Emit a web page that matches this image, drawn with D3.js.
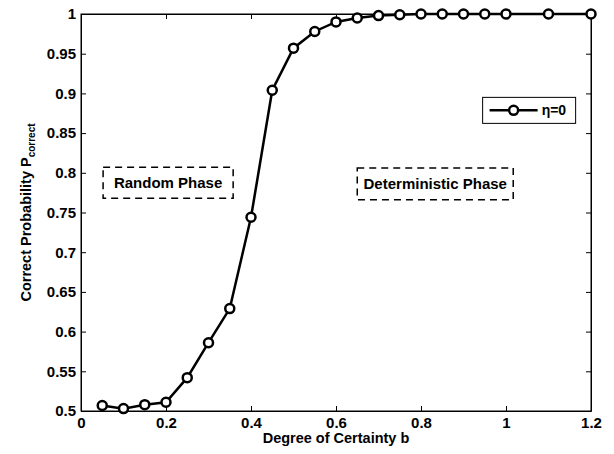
<html lang="en">
<head>
  <meta charset="UTF-8"/>
  <script src="https://d3js.org/d3.v7.min.js"></script>
  <style>
body {
  margin: 0;
  background: white;
  font-family: 'Liberation Sans', Arial, sans-serif;
}

svg {
  display: block;
}

text {
  fill: black;
  font-weight: bold;
}

.axis path,
.axis line {
  stroke: black;
}

.axis text {
  font-size: 15px;
}

.line {
  fill: none;
  stroke: black;
  stroke-width: 2.5;
}

.dot {
  fill: white;
  stroke: black;
  stroke-width: 2.5;
}

text.axis_title {
  font-size: 14.5px;
}

.note rect {
  fill: none;
  stroke: black;
  stroke-width: 1.5;
  stroke-dasharray: 7,5;
}

.note text {
  font-size: 15px;
}
</style>
</head>
<body>
  <svg width="614" height="454"></svg>

<script>

  // data
  const certainty = [0.05, 0.1, 0.15, 0.2, 0.25, 0.3, 0.35, 0.4, 0.45, 0.5, 0.55,
                     0.6, 0.65, 0.7, 0.75, 0.8, 0.85, 0.9, 0.95, 1.0, 1.1, 1.2];
  const pCorrect  = [0.507, 0.503, 0.508, 0.511, 0.542, 0.586, 0.629, 0.744, 0.904, 0.957, 0.978,
                     0.990, 0.995, 0.998, 0.999, 1.0, 1.0, 1.0, 1.0, 1.0, 1.0, 1.0];
  const xTicks = [0, 0.2, 0.4, 0.6, 0.8, 1, 1.2];
  const yTicks = [0.5, 0.55, 0.6, 0.65, 0.7, 0.75, 0.8, 0.85, 0.9, 0.95, 1];
  const seriesName = 'η=0';
  const phases = [
    {label: 'Random Phase', x0: 0.052, x1: 0.358, y0: 0.768, y1: 0.807},
    {label: 'Deterministic Phase', x0: 0.65, x1: 1.017, y0: 0.766, y1: 0.806}
  ];

  const svg = d3.select('svg');

  const margin = {left: 81, right: 23, top: 14, bottom: 43};
  const width = 614 - margin.left - margin.right;
  const height = 454 - margin.top - margin.bottom;

  const chart = svg.append('g')
    .attr('transform', `translate(${margin.left},${margin.top})`);

  const x = d3.scaleLinear().domain([0, 1.2]).range([0, width]);
  const y = d3.scaleLinear().domain([0.5, 1]).range([height, 0]);

  const fmt = d => String(+d.toFixed(2));

  // matlab style box, ticks pointing inward on all four sides
  chart.append('g')
    .attr('class', 'axis')
    .attr('transform', `translate(0,${height})`)
    .call(d3.axisBottom(x).tickValues(xTicks).tickFormat(fmt).tickSizeInner(-5).tickSizeOuter(0).tickPadding(6));

  chart.append('g')
    .attr('class', 'axis')
    .call(d3.axisLeft(y).tickValues(yTicks).tickFormat(fmt).tickSizeInner(-5).tickSizeOuter(0).tickPadding(5));

  chart.append('g')
    .attr('class', 'axis')
    .call(d3.axisTop(x).tickValues(xTicks).tickFormat('').tickSizeInner(-5).tickSizeOuter(0));

  chart.append('g')
    .attr('class', 'axis')
    .attr('transform', `translate(${width},0)`)
    .call(d3.axisRight(y).tickValues(yTicks).tickFormat('').tickSizeInner(-5).tickSizeOuter(0));

  chart.append('rect')
    .attr('width', width)
    .attr('height', height)
    .attr('fill', 'none')
    .attr('stroke', 'black');

  chart.selectAll('.axis text').attr('font-family', "'Liberation Sans', Arial, sans-serif");

  // phase annotations
  const notes = chart.selectAll('.note')
    .data(phases)
    .enter().append('g')
    .attr('class', 'note');

  notes.append('rect')
    .attr('x', d => x(d.x0))
    .attr('y', d => y(d.y1))
    .attr('width', d => x(d.x1) - x(d.x0))
    .attr('height', d => y(d.y0) - y(d.y1));

  notes.append('text')
    .attr('x', d => (x(d.x0) + x(d.x1)) / 2)
    .attr('y', d => (y(d.y0) + y(d.y1)) / 2)
    .attr('dy', '0.35em')
    .attr('text-anchor', 'middle')
    .text(d => d.label);

  // the curve
  const points = certainty.map((c, i) => ({x: c, y: pCorrect[i]}));

  const line = d3.line()
    .x(d => x(d.x))
    .y(d => y(d.y));

  chart.append('path')
    .datum(points)
    .attr('class', 'line')
    .attr('d', line);

  chart.selectAll('.dot')
    .data(points)
    .enter().append('circle')
    .attr('class', 'dot')
    .attr('cx', d => x(d.x))
    .attr('cy', d => y(d.y))
    .attr('r', 4.5);

  // legend
  const legend = chart.append('g')
    .attr('transform', `translate(${x(0.945)},${y(0.895)})`);

  legend.append('rect')
    .attr('width', 93)
    .attr('height', 26)
    .attr('fill', 'white')
    .attr('stroke', 'black');

  legend.append('line')
    .attr('x1', 7).attr('x2', 55)
    .attr('y1', 13).attr('y2', 13)
    .attr('stroke', 'black')
    .attr('stroke-width', 2.5);

  legend.append('circle')
    .attr('class', 'dot')
    .attr('cx', 31)
    .attr('cy', 13)
    .attr('r', 4.5);

  legend.append('text')
    .attr('x', 59)
    .attr('y', 13)
    .attr('dy', '0.35em')
    .style('font-size', '14px')
    .text(seriesName);

  // axis titles
  chart.append('text')
    .attr('class', 'axis_title')
    .attr('x', width / 2)
    .attr('y', height + 32)
    .attr('text-anchor', 'middle')
    .text('Degree of Certainty b');

  const ylab = chart.append('text')
    .attr('class', 'axis_title')
    .attr('transform', 'rotate(-90)')
    .attr('x', -height / 2)
    .attr('y', -50)
    .attr('text-anchor', 'middle');
  ylab.append('tspan').text('Correct Probability P');
  ylab.append('tspan')
    .attr('dy', 4)
    .style('font-size', '10px')
    .text('correct');

</script>
</body>
</html>
